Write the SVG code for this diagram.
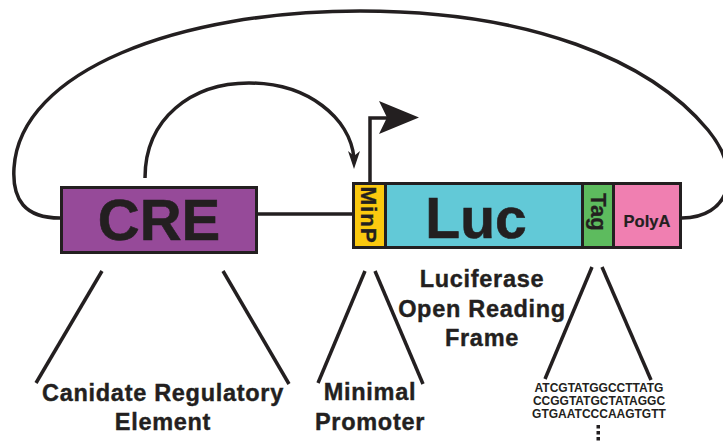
<svg xmlns="http://www.w3.org/2000/svg" width="723" height="441" viewBox="0 0 723 441">
<defs>
<style>
.box{stroke:#231f20;stroke-width:3}
.ln{fill:none;stroke:#231f20;stroke-width:3.5;stroke-linecap:butt}
.t{font-family:"Liberation Sans",Arial,Helvetica,sans-serif;font-weight:bold;fill:#231f20;text-anchor:middle}
.lbl{font-size:23.5px;letter-spacing:0.7px;stroke:#231f20;stroke-width:0.4}
.seq{font-size:12px}
</style>
</defs>
<rect width="723" height="441" fill="#ffffff"/>
<g id="connectors">
<path class="ln" d="M60,218 C25,218 12,200 14,168 C20,70 180,11 360,11 C530,11 650,60 708,130 C745,175 728,218 682,218"/>
<path class="ln" d="M145,178 C145,118 192,83 249,83 C308,83 350,118 354,158"/>
<path fill="#231f20" d="M354,169 L348,151 L354,156 L360,151 Z"/>
<line class="ln" x1="258" y1="214" x2="353" y2="214"/>
<polyline class="ln" points="370,183 370,118 388,118"/>
<path fill="#231f20" d="M419,117.5 L379,101 L387,117.5 L379,134 Z"/>
<line class="ln" x1="102" y1="271" x2="36" y2="383"/>
<line class="ln" x1="223" y1="271" x2="289" y2="384"/>
<line class="ln" x1="365" y1="271" x2="318" y2="383"/>
<line class="ln" x1="375" y1="271" x2="423" y2="384"/>
<line class="ln" x1="592" y1="267" x2="545" y2="379"/>
<line class="ln" x1="602" y1="267" x2="651" y2="380"/>
</g>
<g id="cre">
<rect class="box" x="61.5" y="187.5" width="195" height="65" fill="#964a99"/>
<text class="t" x="159" y="240" font-size="58" stroke="#231f20" stroke-width="0.6">CRE</text>
</g>
<g id="minp">
<rect class="box" x="353.5" y="183.5" width="32" height="64" fill="#fbc90f"/>
<text class="t" transform="translate(361,215) rotate(90)" font-size="22.5" letter-spacing="0.8" stroke="#231f20" stroke-width="0.3">MinP</text>
</g>
<g id="luc">
<rect class="box" x="385.5" y="183.5" width="197" height="64" fill="#62c9d7"/>
<text class="t" x="476" y="238" font-size="57" stroke="#231f20" stroke-width="0.6">Luc</text>
</g>
<g id="tag">
<rect class="box" x="582.5" y="183.5" width="31" height="64" fill="#5dbb5e"/>
<text class="t" transform="translate(591,212) rotate(90)" font-size="22" stroke="#231f20" stroke-width="0.3">Tag</text>
</g>
<g id="polya">
<rect class="box" x="613.5" y="183.5" width="67" height="64" fill="#f07fb1"/>
<text class="t" x="647" y="227" font-size="16.5" stroke="#231f20" stroke-width="0.2">PolyA</text>
</g>
<g id="label-cre">
<text class="t lbl" x="163" y="401">Canidate Regulatory</text>
<text class="t lbl" x="163" y="430">Element</text>
</g>
<g id="label-minp">
<text class="t lbl" x="370" y="400">Minimal</text>
<text class="t lbl" x="370" y="430">Promoter</text>
</g>
<g id="label-luc">
<text class="t lbl" x="482" y="287">Luciferase</text>
<text class="t lbl" x="482" y="317">Open Reading</text>
<text class="t lbl" x="482" y="346">Frame</text>
</g>
<g id="label-tag">
<text class="t seq" x="599" y="392">ATCGTATGGCCTTATG</text>
<text class="t seq" x="599" y="405">CCGGTATGCTATAGGC</text>
<text class="t seq" x="599" y="418">GTGAATCCCAAGTGTT</text>
<rect x="596.5" y="425" width="3.5" height="3.5" fill="#231f20"/>
<rect x="596.5" y="431" width="3.5" height="3.5" fill="#231f20"/>
<rect x="596.5" y="437" width="3.5" height="3.5" fill="#231f20"/>
</g>
</svg>
